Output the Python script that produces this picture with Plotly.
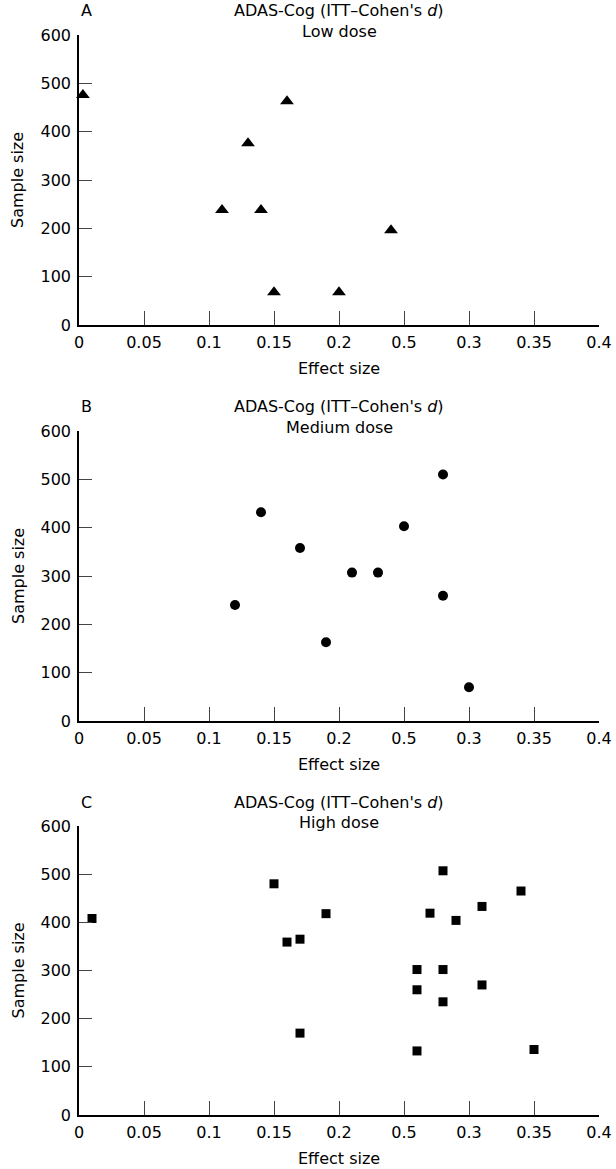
import plotly.graph_objects as go

# ---- data ----
low_x = [0.003, 0.16, 0.13, 0.11, 0.14, 0.24, 0.15, 0.20]
low_y = [476, 463, 376, 238, 238, 196, 68, 68]

med_x = [0.14, 0.25, 0.28, 0.17, 0.21, 0.23, 0.12, 0.28, 0.19, 0.30]
med_y = [432, 403, 510, 358, 307, 307, 240, 259, 163, 70]

high_x = [0.01, 0.15, 0.19, 0.16, 0.17, 0.17, 0.28, 0.34, 0.31, 0.27, 0.29,
          0.26, 0.28, 0.26, 0.31, 0.28, 0.26, 0.35]
high_y = [408, 480, 418, 359, 365, 170, 507, 465, 433, 419, 404,
          302, 302, 260, 270, 235, 133, 136]

x_tickvals = [0, 0.05, 0.1, 0.15, 0.2, 0.25, 0.3, 0.35, 0.4]
x_ticktext = ["0", "0.05", "0.1", "0.15", "0.2", "0.5", "0.3", "0.35", "0.4"]
y_tickvals = [0, 100, 200, 300, 400, 500, 600]

panel_letters = ["A", "B", "C"]
dose_labels = ["Low dose", "Medium dose", "High dose"]
main_title = "ADAS-Cog (ITT–Cohen's <i>d</i>)"
x_title = "Effect size"
y_title = "Sample size"

W, H = 616, 1169
FONT = "'DejaVu Sans', 'Open Sans', sans-serif"
FS = 16

# pixel geometry of each panel (top, bottom)
panels_px = [(35, 325), (431, 721), (826, 1115)]
x_left, x_right = 79, 599


def py(p):
    return 1 - p / H


def px(p):
    return p / W


fig = go.Figure()

series = [(low_x, low_y, "triangle-up", 12),
          (med_x, med_y, "circle", 10),
          (high_x, high_y, "square", 9)]

annotations = []
txtfont = dict(family=FONT, size=FS, color="black")
for i, ((xs, ys, sym, sz), (top, bot)) in enumerate(zip(series, panels_px)):
    n = "" if i == 0 else str(i + 1)
    fig.add_trace(go.Scatter(
        x=xs, y=ys, mode="markers",
        marker=dict(symbol=sym, size=sz, color="black"),
        xaxis="x" + n, yaxis="y" + n, showlegend=False, cliponaxis=False))
    fig.update_layout(**{
        "xaxis" + n: dict(
            domain=[px(x_left), px(x_right)], range=[0, 0.4], anchor="y" + n,
            tickvals=x_tickvals, ticktext=x_ticktext, automargin=False,
            ticks="inside", ticklen=14, tickwidth=1, tickcolor="#444",
            showline=True, linecolor="black", linewidth=1.5,
            showgrid=False, zeroline=False, ticklabelstandoff=2,
            tickfont=txtfont),
        "yaxis" + n: dict(
            domain=[py(bot), py(top)], range=[0, 600], anchor="x" + n,
            tickvals=y_tickvals, automargin=False,
            ticks="inside", ticklen=13, tickwidth=1, tickcolor="#444",
            showline=True, linecolor="black", linewidth=1.5,
            showgrid=False, zeroline=False, ticklabelstandoff=3,
            tickfont=txtfont),
    })
    cx = px((x_left + x_right) / 2)
    annotations += [
        dict(text=main_title, x=cx, y=py(top - 24), xanchor="center", yanchor="middle"),
        dict(text=dose_labels[i], x=cx, y=py(top - 4), xanchor="center", yanchor="middle"),
        dict(text=panel_letters[i], x=px(x_left + 7), y=py(top - 24),
             xanchor="center", yanchor="middle"),
        dict(text=x_title, x=cx, y=py(bot + 43), xanchor="center", yanchor="middle"),
        dict(text=y_title, x=px(18), y=py((top + bot) / 2), textangle=-90,
             xanchor="center", yanchor="middle"),
    ]

for a in annotations:
    a.update(xref="paper", yref="paper", showarrow=False, font=txtfont)

fig.update_layout(
    width=W, height=H,
    margin=dict(l=0, r=0, t=0, b=0),
    paper_bgcolor="white", plot_bgcolor="white",
    annotations=annotations,
    font=dict(family=FONT, color="black"),
)

fig.write_html(
    "out.html",
    config={"displayModeBar": False},
    post_script="document.body.style.margin='0';"
                "document.body.style.overflow='hidden';",
)
